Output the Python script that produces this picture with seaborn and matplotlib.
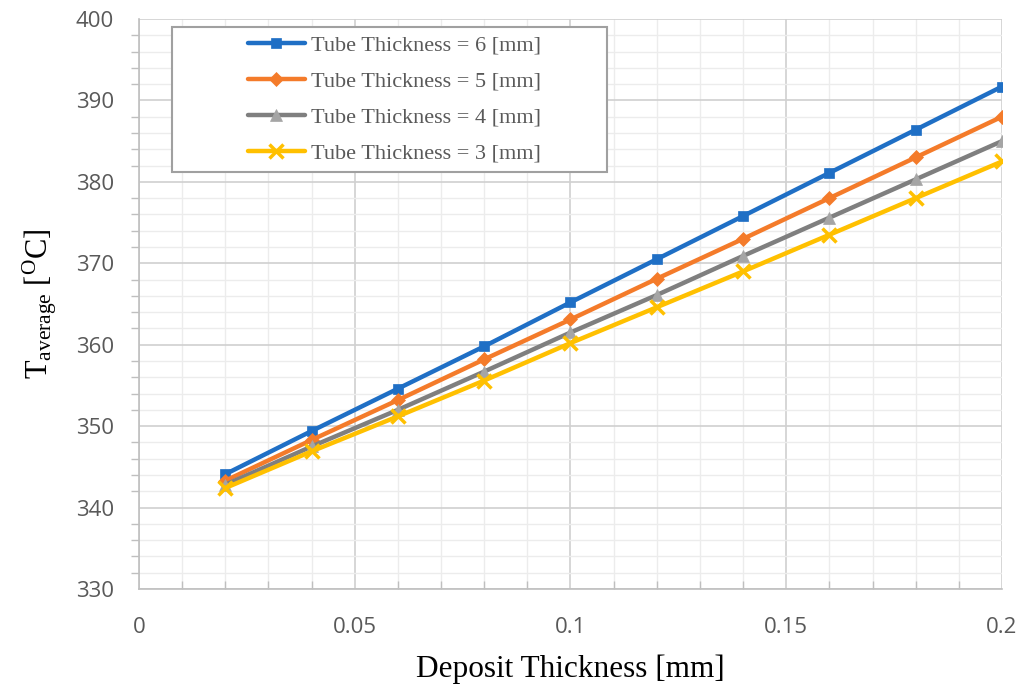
import numpy as np
import pandas as pd
import matplotlib
matplotlib.use("Agg")
import matplotlib.pyplot as plt
from matplotlib.ticker import MultipleLocator, FuncFormatter
from matplotlib.patches import Rectangle
import seaborn as sns

deposit = [0.02, 0.04, 0.06, 0.08, 0.10, 0.12, 0.14, 0.16, 0.18, 0.20]
t6 = [344.1, 349.4, 354.6, 359.8, 365.2, 370.5, 375.8, 381.1, 386.4, 391.7]
t5 = [343.3, 348.3, 353.2, 358.2, 363.1, 368.1, 373.0, 378.0, 383.0, 388.0]
t4 = [342.8, 347.5, 352.0, 356.7, 361.5, 366.1, 370.9, 375.6, 380.3, 385.0]
t3 = [342.4, 346.9, 351.2, 355.6, 360.2, 364.6, 369.0, 373.5, 378.0, 382.5]
labels = ["Tube Thickness = 6 [mm]", "Tube Thickness = 5 [mm]",
          "Tube Thickness = 4 [mm]", "Tube Thickness = 3 [mm]"]

sns.set_theme(style="white")
plt.rcParams["font.family"] = ["Open Sans", "DejaVu Sans"]
plt.rcParams["mathtext.fontset"] = "custom"
plt.rcParams["mathtext.rm"] = "Liberation Serif"
plt.rcParams["mathtext.it"] = "Liberation Serif:italic"

fig = plt.figure(figsize=(10.32, 6.88), dpi=100)
ax = fig.add_axes([0.1347, 0.1439, 0.9709 - 0.1347, 0.9724 - 0.1439])

styles = [
    dict(color="#1F6FC5", marker="s", ms=7, mfc="#1F6FC5", mec="#1F6FC5"),
    dict(color="#F47B2A", marker="D", ms=7, mfc="#F47B2A", mec="#F47B2A"),
    dict(color="#7F7F7F", marker="^", ms=9, mfc="#A5A5A5", mec="#A5A5A5"),
    dict(color="#FFC000", marker="x", ms=10, mfc="#FFC000", mec="#FFC000"),
]
for ys, lab, st in zip([t6, t5, t4, t3], labels, styles):
    df = pd.DataFrame({"x": deposit, "y": ys})
    sns.lineplot(data=df, x="x", y="y", ax=ax, label=lab, color=st["color"],
                 marker=st["marker"], markersize=st["ms"], markerfacecolor=st["mfc"],
                 markeredgecolor=st["mec"], markeredgewidth=2.5 if st["marker"] == "x" else 0.5,
                 linewidth=3.2)

ax.set_xlim(0, 0.2)
ax.set_ylim(330, 400)
ax.xaxis.set_major_locator(MultipleLocator(0.05))
ax.xaxis.set_minor_locator(MultipleLocator(0.01))
ax.yaxis.set_major_locator(MultipleLocator(10))
ax.yaxis.set_minor_locator(MultipleLocator(2))
ax.xaxis.set_major_formatter(FuncFormatter(lambda v, p: "0" if abs(v) < 1e-9 else f"{v:g}"))

ax.grid(which="major", color="#D0D0D0", linewidth=1.2)
ax.grid(which="minor", color="#ECECEC", linewidth=1.0)
ax.set_axisbelow(True)

for s in ["top", "right"]:
    ax.spines[s].set_visible(False)
for s in ["left", "bottom"]:
    ax.spines[s].set_color("#BFBFBF")
    ax.spines[s].set_linewidth(1.2)

ax.tick_params(axis="both", which="major", labelsize=16, colors="#595959", length=0)
ax.tick_params(axis="y", which="major", pad=18)
ax.tick_params(axis="x", which="major", pad=20)
ax.tick_params(axis="both", which="minor", length=6, color="#BFBFBF", width=1)
ax.tick_params(axis="x", which="minor", bottom=True, direction="in")
ax.tick_params(axis="y", which="minor", left=True, direction="out")

ax.set_xlabel("Deposit Thickness [mm]", fontsize=22.5, family="Liberation Serif", color="black", labelpad=12)
ax.set_ylabel(r"T$_{\mathrm{average}}$ [$^{\mathrm{O}}$C]", fontsize=22, family="Liberation Serif",
              color="black", labelpad=12)

# legend frame (Excel-style wide box)
ax.add_patch(Rectangle((0.0382, 0.732), 0.5041, 0.254, transform=ax.transAxes,
                       facecolor="white", edgecolor="#A0A0A0", linewidth=1.5, zorder=4.5))
leg = ax.legend(loc="center left", bbox_to_anchor=(0.1263, 0.8588), frameon=False,
                prop={"family": "Liberation Serif", "size": 16}, handlelength=2.55,
                borderpad=0, labelspacing=0.7, handletextpad=0.27, borderaxespad=0)
leg.set_zorder(6)
for t in leg.get_texts():
    t.set_color("#595959")

fig.savefig("out.png", dpi=100)
